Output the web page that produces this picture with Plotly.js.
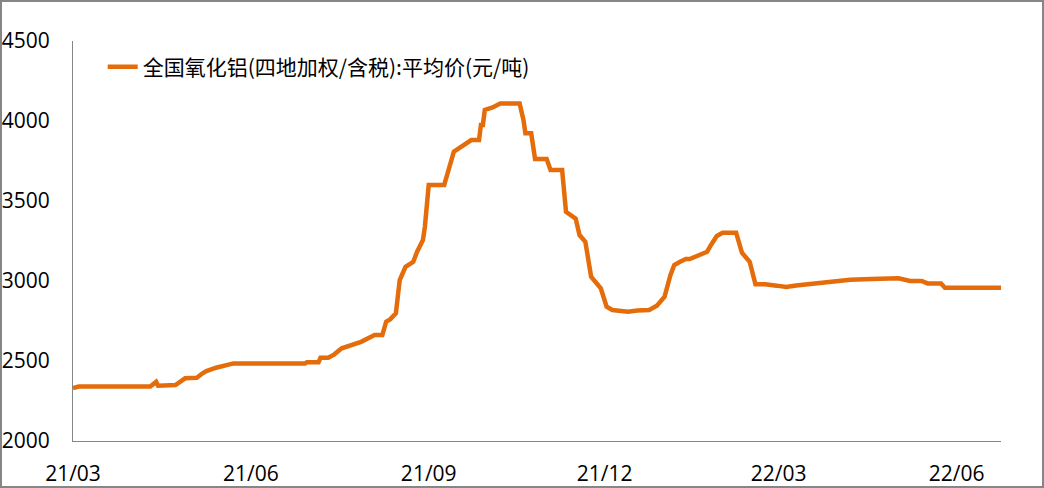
<!DOCTYPE html>
<html>
<head>
<meta charset="utf-8">
<script src="https://cdn.plot.ly/plotly-3.0.1.min.js"></script>
<style>
  html, body { margin: 0; padding: 0; background: #ffffff; }
  #frame { width: 1044px; height: 488px; box-sizing: border-box; border: 2px solid #868686; background: #fff; }
  #chart { width: 1040px; height: 484px; }
</style>
</head>
<body>
<div id="frame"><div id="chart"></div></div>
<script>
const seriesName = "全国氧化铝(四地加权/含税):平均价(元/吨)";

const dates = [
  "2021-03-01","2021-03-04","2021-04-10","2021-04-13","2021-04-14","2021-04-23","2021-04-28","2021-05-04",
  "2021-05-07","2021-05-09","2021-05-14","2021-05-19","2021-05-23","2021-06-29","2021-06-30","2021-07-06",
  "2021-07-07","2021-07-11","2021-07-14","2021-07-18","2021-07-23","2021-07-28","2021-08-04","2021-08-08",
  "2021-08-10","2021-08-12","2021-08-15","2021-08-17","2021-08-20","2021-08-24","2021-08-26","2021-08-29",
  "2021-08-30","2021-09-01","2021-09-09","2021-09-12","2021-09-14","2021-09-23","2021-09-27","2021-09-28",
  "2021-09-29","2021-09-30","2021-10-04","2021-10-08","2021-10-18","2021-10-20","2021-10-21","2021-10-24",
  "2021-10-26","2021-11-01","2021-11-03","2021-11-09","2021-11-11","2021-11-16","2021-11-18","2021-11-21",
  "2021-11-24","2021-11-29","2021-12-02","2021-12-05","2021-12-13","2021-12-18","2021-12-24","2021-12-28",
  "2022-01-01","2022-01-04","2022-01-06","2022-01-09","2022-01-12","2022-01-14","2022-01-23","2022-01-25",
  "2022-01-28","2022-01-31","2022-02-07","2022-02-10","2022-02-14","2022-02-17","2022-02-22","2022-02-28",
  "2022-03-05","2022-03-10","2022-03-22","2022-04-02","2022-04-07","2022-04-18","2022-05-02","2022-05-08",
  "2022-05-14","2022-05-17","2022-05-24","2022-05-26","2022-06-24"
];

const prices = [
  2330,2340,2340,2370,2345,2350,2392,2395,
  2423,2437,2458,2473,2485,2485,2492,2492,
  2520,2520,2540,2579,2600,2620,2662,2662,
  2746,2760,2798,3006,3089,3120,3183,3256,
  3339,3600,3600,3735,3808,3881,3881,3975,
  3975,4069,4085,4110,4110,4006,3923,3923,
  3762,3762,3694,3694,3433,3390,3287,3246,
  3027,2954,2839,2819,2808,2815,2819,2846,
  2902,3037,3100,3120,3137,3137,3183,3225,
  3281,3302,3302,3177,3120,2979,2979,2971,
  2962,2972,2985,2996,3008,3012,3017,3000,
  3000,2985,2985,2958,2958
];

const xTickVals = ["2021-03-01","2021-06-01","2021-09-01","2021-12-01","2022-03-01","2022-06-01"];
const xTickText = ["21/03","21/06","21/09","21/12","22/03","22/06"];
const yTickVals = [2000,2500,3000,3500,4000,4500];

const tickFont = { family: "'Open Sans', 'Noto Sans', sans-serif", size: 21, color: "#000000" };

Plotly.newPlot("chart", [{
  type: "scatter",
  mode: "lines",
  name: seriesName,
  x: dates,
  y: prices,
  line: { color: "#E46C0A", width: 4.5, shape: "linear" }
}], {
  width: 1040,
  height: 484,
  margin: { l: 71, r: 41, t: 39, b: 45 },
  paper_bgcolor: "#ffffff",
  plot_bgcolor: "#ffffff",
  showlegend: true,
  legend: {
    x: 0.032, xanchor: "left",
    y: 0.935, yanchor: "middle",
    bgcolor: "rgba(0,0,0,0)",
    font: { family: "'Noto Sans CJK SC', 'Noto Sans', sans-serif", size: 21, color: "#000000" }
  },
  xaxis: {
    type: "date",
    range: ["2021-03-01", "2022-06-24"],
    tickvals: xTickVals,
    ticktext: xTickText,
    showgrid: false,
    zeroline: false,
    showline: true,
    linecolor: "#868686",
    linewidth: 1,
    ticks: "",
    ticklabelstandoff: 14,
    tickfont: tickFont,
    fixedrange: true
  },
  yaxis: {
    range: [2000, 4500],
    tickvals: yTickVals,
    showgrid: false,
    zeroline: false,
    showline: true,
    linecolor: "#868686",
    linewidth: 1,
    ticks: "",
    ticklabelstandoff: 18,
    tickfont: tickFont,
    fixedrange: true
  }
}, { displayModeBar: false, staticPlot: true });
</script>
</body>
</html>
